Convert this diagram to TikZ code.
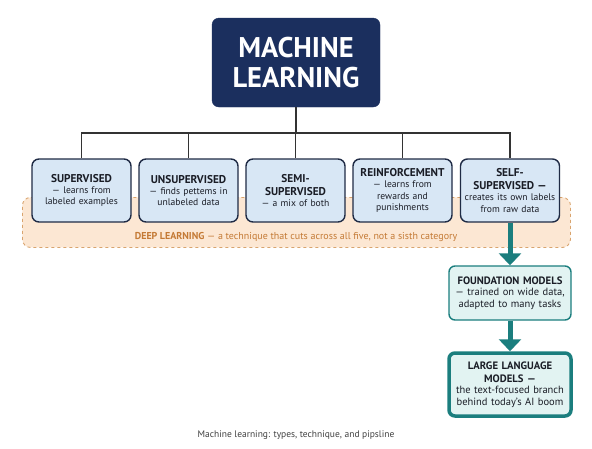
\documentclass[tikz,border=0pt]{standalone}
\usepackage{fontspec}
\setmainfont{PT Sans}
\usetikzlibrary{arrows.meta,calc}
\definecolor{navy}{HTML}{1B2F5E}
\definecolor{boxfill}{HTML}{D8E7F5}
\definecolor{boxline}{HTML}{1F2B45}
\definecolor{dlfill}{HTML}{FCE7D3}
\definecolor{dlline}{HTML}{D9A46E}
\definecolor{dltext}{HTML}{C47A35}
\definecolor{teal}{HTML}{1B7E7E}
\definecolor{tealfill}{HTML}{E2F3F2}
\definecolor{conn}{HTML}{333333}
\definecolor{ink}{HTML}{1A1D26}
\newcommand\ttlf{\fontsize{11.3}{12.5}\selectfont\bfseries}
\newcommand\bodyf{\fontsize{9.6}{11.3}\selectfont\mdseries}
\newcommand\pttlf{\fontsize{10.7}{12.5}\selectfont\bfseries}
\newcommand\pbodyf{\fontsize{10.5}{11.5}\selectfont\mdseries}
\begin{document}
\begin{tikzpicture}[x=1pt,y=-1pt,
  typebox/.style={draw=boxline,line width=1.4pt,fill=boxfill,rounded corners=7pt,
    minimum width=99pt,minimum height=63pt,text width=97pt,align=center,
    font=\bodyf,inner sep=0.5pt,text=ink},
  pipebox/.style={draw=teal,line width=1.4pt,fill=tealfill,rounded corners=6pt,
    minimum width=122pt,text width=120pt,align=center,
    font=\pbodyf,inner sep=0.5pt,text=ink},
  conline/.style={draw=conn,line width=1.3pt},
  bigarrow/.style={draw=teal,line width=5pt,-{Triangle[width=22pt,length=12pt]},teal}
]
\useasboundingbox (0,0) rectangle (592,448);
\fill[white] (0,0) rectangle (592,448);

% deep learning band
\node (dl) [draw=dlline,dashed,line width=0.9pt,fill=dlfill,rounded corners=8pt,
  minimum width=548pt,minimum height=50pt,anchor=north west,inner sep=0pt] at (22,197) {};
\node (dltxt) [text=dltext,font=\fontsize{10}{12}\selectfont,inner sep=0pt] at (296,237)
  {\textbf{DEEP LEARNING} --- a technique that cuts across all five, not a sisth category};

% root
\node (ml) [fill=navy,draw=navy,rounded corners=7pt,minimum width=168pt,minimum height=89pt,
  text=white,align=center,font=\fontsize{28.5}{30.5}\selectfont\bfseries] at (296,62.5)
  {MACHINE\\LEARNING};

\coordinate (bus) at (0,133);

% type boxes
\node (sup) [typebox] at (81.5,190.5) {\ttlf SUPERVISED\\\bodyf --- learns from\\labeled examples};
\node (uns) [typebox] at (188.5,190.5) {\ttlf UNSUPERVISED\\\bodyf --- finds pettems in\\unlabeled data};
\node (semi) [typebox] at (295.5,190.5) {\ttlf SEMI-\\\ttlf SUPERVISED\\\bodyf --- a mix of both};
\node (rein) [typebox] at (402.5,190.5) {\ttlf REINFORCEMENT\\\bodyf --- learns from\\rewards and\\punishments};
\node (self) [typebox] at (510,190.5) {\ttlf SELF-\\\ttlf SUPERVISED ---\\\bodyf creates its own labels\\from raw data};

% tree connectors
\draw[conline] (ml.south) -- (ml.south |- bus);
\draw[conline] (sup.north) |- (bus -| uns.north) -| (uns.north);
\draw[conline] (uns.north |- bus) -- (semi.north |- bus) -- (rein.north |- bus) -| (self.north);
\draw[conline] (semi.north |- bus) -- (semi.north);
\draw[conline] (rein.north |- bus) -- (rein.north);

% pipeline
\node (found) [pipebox,minimum height=54pt] at (510,293)
  {\pttlf FOUNDATION MODELS\\\pbodyf --- trained on wide data,\\adapted to many tasks};
\node (llm) [pipebox,line width=3.5pt,minimum height=63pt] at (510,384.5)
  {\pttlf LARGE LANGUAGE\\\pttlf MODELS ---\\\pbodyf the text-focused branch\\behind today's AI boom};

\draw[bigarrow] (self.south) -- (found.north);
\draw[bigarrow] (found.south) -- (llm.north);

\node (caption) [text=black!75,font=\fontsize{9.5}{11}\selectfont,inner sep=0pt] at (296,435)
  {Machine learning: types, technique, and pipsline};
\end{tikzpicture}
\end{document}
